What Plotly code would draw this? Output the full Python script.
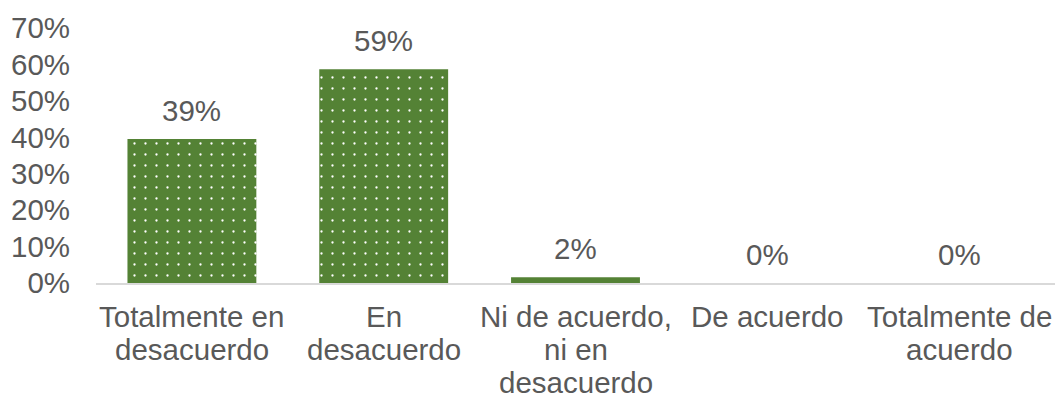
import plotly.graph_objects as go

categories = ["Totalmente en desacuerdo", "En desacuerdo",
              "Ni de acuerdo, ni en desacuerdo", "De acuerdo", "Totalmente de acuerdo"]
label_lines = [["Totalmente en", "desacuerdo"],
               ["En", "desacuerdo"],
               ["Ni de acuerdo,", "ni en", "desacuerdo"],
               ["De acuerdo"],
               ["Totalmente de", "acuerdo"]]
values = [0.395, 0.587, 0.016, 0.0, 0.0]
value_labels = ["39%", "59%", "2%", "0%", "0%"]
y_ticks = [0, 0.1, 0.2, 0.3, 0.4, 0.5, 0.6, 0.7]

FONT = "Liberation Sans, Arial, sans-serif"
GRAY = "#595959"
FS = 29.5

fig = go.Figure()
fig.add_trace(go.Bar(
    x=categories, y=values,
    marker=dict(
        color="#548235",
        line=dict(width=0),
        pattern=dict(shape=".", size=11, solidity=0.035,
                     fgcolor="#ffffff", bgcolor="#548235", fillmode="replace"),
    ),
    hoverinfo="skip",
))

annotations = []
for cat, v, t in zip(categories, values, value_labels):
    annotations.append(dict(x=cat, y=v, xref="x", yref="y", text=t, showarrow=False,
                            yanchor="middle", yshift=28.5,
                            font=dict(family=FONT, size=FS, color=GRAY)))
for cat, lines in zip(categories, label_lines):
    for i, ln in enumerate(lines):
        annotations.append(dict(x=cat, y=0, xref="x", yref="paper", text=ln, showarrow=False,
                                yanchor="middle", yshift=-33.5 - 33 * i,
                                font=dict(family=FONT, size=FS, color=GRAY)))

fig.update_layout(
    width=1058, height=398,
    margin=dict(l=95.5, r=2.5, t=28, b=114.5),
    paper_bgcolor="white", plot_bgcolor="white",
    bargap=0.328,
    showlegend=False,
    font=dict(family=FONT, size=FS, color=GRAY),
    annotations=annotations,
    xaxis=dict(showticklabels=False, showgrid=False, zeroline=False,
               showline=True, linecolor="#d9d9d9", linewidth=1.5, ticks=""),
    yaxis=dict(range=[0, 0.7], tickvals=y_ticks, tickformat=".0%",
               showgrid=False, zeroline=False, showline=False,
               ticks="outside", ticklen=0, ticklabelstandoff=19,
               tickfont=dict(family=FONT, size=FS, color=GRAY)),
)

fig.write_html("out.html")
